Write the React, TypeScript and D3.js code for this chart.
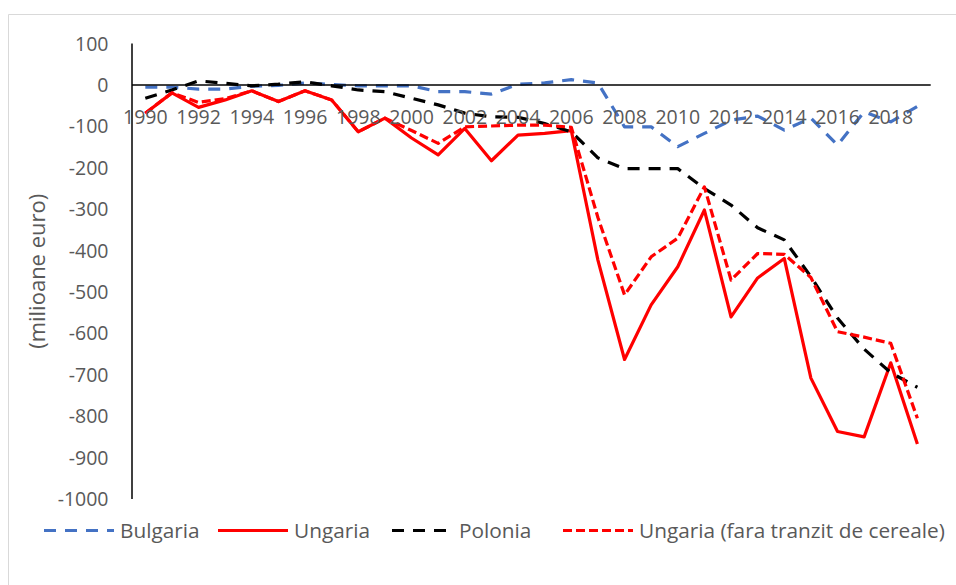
import React from "react";
import * as d3 from "d3";

const years = [1990, 1991, 1992, 1993, 1994, 1995, 1996, 1997, 1998, 1999, 2000, 2001, 2002, 2003, 2004, 2005, 2006, 2007, 2008, 2009, 2010, 2011, 2012, 2013, 2014, 2015, 2016, 2017, 2018, 2019];

const bulgaria = [-5, -5, -10, -10, -3, -1, 5, 1, -2, -2, -2, -16, -16, -22, 2, 5, 13, 5, -101, -101, -149, -117, -85, -75, -109, -80, -145, -65, -89, -52];
const ungaria = [-68, -19, -54, -36, -14, -40, -14, -36, -113, -80, -128, -169, -105, -183, -121, -117, -110, -423, -663, -531, -439, -302, -560, -466, -419, -708, -837, -850, -671, -867];
const polonia = [-32, -12, 10, 4, -2, 2, 8, -2, -12, -16, -32, -48, -68, -77, -78, -93, -113, -176, -202, -202, -202, -250, -290, -345, -374, -463, -563, -638, -695, -730];
const ungariaFara = [-68, -19, -42, -33, -14, -40, -14, -36, -113, -80, -110, -141, -101, -99, -97, -97, -102, -320, -507, -415, -370, -246, -471, -407, -409, -465, -596, -609, -624, -805];

const yTicks = [100, 0, -100, -200, -300, -400, -500, -600, -700, -800, -900, -1000];
const xTickYears = [1990, 1992, 1994, 1996, 1998, 2000, 2002, 2004, 2006, 2008, 2010, 2012, 2014, 2016, 2018];

const seriesNames = ["Bulgaria", "Ungaria", "Polonia", "Ungaria (fara tranzit de cereale)"];
const seriesData = [bulgaria, ungaria, polonia, ungariaFara];
const seriesColors = ["#4472C4", "#FF0000", "#000000", "#FF0000"];
const seriesDash = ["12,9", null, "12,9", "9,4"];
const legendX = [44, 218, 392, 563];
const legendLen = [70, 70, 61, 70];

const FONT = "'Open Sans', sans-serif";
const GRAY = "#595959";

export default function App() {
  const x = d3.scaleBand<number>().domain(years).range([132, 930.7]);
  const cx = (yr: number) => (x(yr) as number) + x.bandwidth() / 2;
  const y = d3.scaleLinear().domain([-1000, 100]).range([499, 43.6]);

  const line = d3
    .line<number>()
    .x((_, i) => cx(years[i]))
    .y((v) => y(v));

  return (
    <svg
      width={956}
      height={585}
      style={{ position: "absolute", left: 0, top: 0, background: "#fff" }}
      fontFamily={FONT}
    >
      <rect x={0} y={0} width={956} height={585} fill="#fff" />
      <line x1={8.5} y1={14.5} x2={8.5} y2={585} stroke="#d9d9d9" strokeWidth={1} />
      <line x1={8.5} y1={14.5} x2={956} y2={14.5} stroke="#d9d9d9" strokeWidth={1} />

      {yTicks.map((t) => (
        <text key={t} x={108.5} y={y(t)} dy="0.36em" textAnchor="end" fontSize={19.5} fill={GRAY}>
          {t}
        </text>
      ))}

      <text
        transform={`translate(37,${(y(100) + y(-1000)) / 2}) rotate(-90)`}
        textAnchor="middle"
        dy="0.35em"
        fontSize={22}
        fill={GRAY}
      >
        (milioane euro)
      </text>

      {seriesData.map((d, i) => (
        <path
          key={seriesNames[i]}
          d={line(d) as string}
          fill="none"
          stroke={seriesColors[i]}
          strokeWidth={3.2}
          strokeDasharray={seriesDash[i] ?? undefined}
          strokeLinejoin="round"
        />
      ))}

      <line x1={132} y1={y(100)} x2={132} y2={y(-1000)} stroke="#000" strokeWidth={1.5} />
      <line x1={132} y1={y(0)} x2={930.7} y2={y(0)} stroke="#000" strokeWidth={1.5} />

      {xTickYears.map((yr) => (
        <text key={yr} x={cx(yr)} y={124} textAnchor="middle" fontSize={19.5} fill={GRAY}>
          {yr}
        </text>
      ))}

      {seriesNames.map((name, i) => (
        <g key={name}>
          <line
            x1={legendX[i]}
            x2={legendX[i] + legendLen[i]}
            y1={530.5}
            y2={530.5}
            stroke={seriesColors[i]}
            strokeWidth={3.2}
            strokeDasharray={seriesDash[i] ?? undefined}
          />
          <text x={legendX[i] + legendLen[i] + 6} y={530.5} dy="0.36em" fontSize={20.8} fill={GRAY}>
            {name}
          </text>
        </g>
      ))}
    </svg>
  );
}
